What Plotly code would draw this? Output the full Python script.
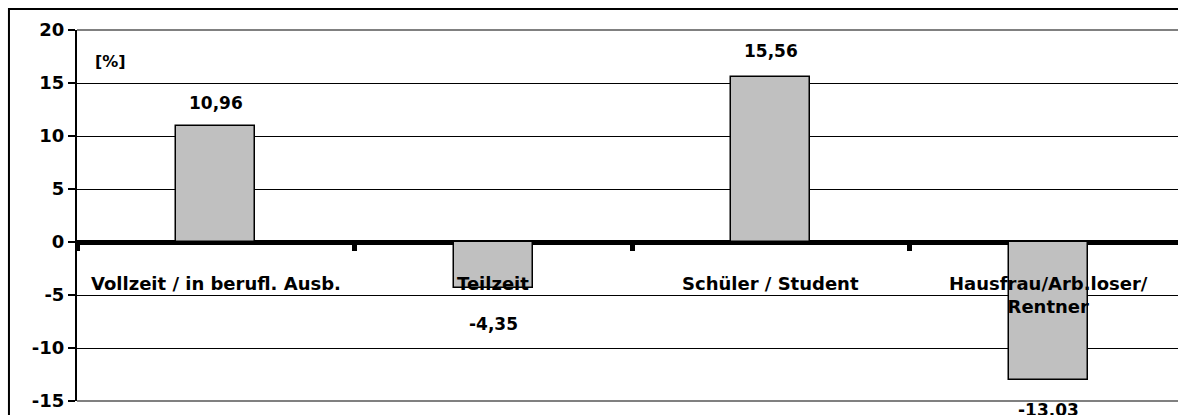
import plotly.graph_objects as go

categories = ["Vollzeit / in berufl. Ausb.", "Teilzeit", "Schüler / Student", "Hausfrau/Arb.loser/<br>Rentner"]
values = [10.96, -4.35, 15.56, -13.03]
value_labels = ["10,96", "-4,35", "15,56", "-13,03"]
y_ticks = [-15, -10, -5, 0, 5, 10, 15, 20]

FONT = "DejaVu Sans"
label_shift = [11, -24, 14, -18]

x_idx = list(range(len(categories)))

fig = go.Figure()
fig.add_trace(go.Bar(
    x=x_idx, y=values, width=0.285,
    marker=dict(color="#c0c0c0", line=dict(color="black", width=1.5)),
    hoverinfo="skip",
))

# invisible trace for the x2 axis (boundary ticks on the zero line)
fig.add_trace(go.Scatter(x=[0], y=[0], xaxis="x2", mode="markers",
                         marker=dict(opacity=0), hoverinfo="skip", showlegend=False))

for i, (v, t) in enumerate(zip(values, value_labels)):
    fig.add_annotation(x=i, y=v, text=f"<b>{t}</b>", showarrow=False,
                       yanchor="bottom" if v > 0 else "top", yshift=label_shift[i],
                       font=dict(family=FONT, size=17, color="black"))

for i, c in enumerate(categories):
    fig.add_annotation(x=i, y=0, text=f"<b>{c}</b>", showarrow=False,
                       yanchor="top", yshift=-29, align="center",
                       font=dict(family=FONT, size=18, color="black"))

fig.add_annotation(xref="paper", yref="paper", x=0.0145, y=0.914, text="<b>[%]</b>",
                   showarrow=False, xanchor="left", yanchor="middle",
                   font=dict(family=FONT, size=16, color="black"))

# plot-area border lines at top and bottom (gray), drawn over the black gridlines
for yy in (0, 1):
    fig.add_shape(type="line", xref="paper", yref="paper", x0=0, x1=1, y0=yy, y1=yy,
                  line=dict(color="#808080", width=2), layer="above")

# outer frame
fig.add_shape(type="rect", xref="paper", yref="paper", x0=-0.0618, x1=1.05, y0=-0.1, y1=1.0566,
              line=dict(color="black", width=2), layer="above")

fig.update_layout(
    width=1178, height=415,
    margin=dict(l=77, r=0, t=30, b=14),
    paper_bgcolor="white", plot_bgcolor="white",
    showlegend=False,
    bargap=0,
    hovermode=False,
    xaxis=dict(range=[-0.5, 3.467], showticklabels=False, showgrid=False, zeroline=False,
               showline=False, ticks=""),
    xaxis2=dict(range=[-0.5, 3.467], overlaying="x", anchor="free", position=15/35,
                tickvals=[-0.5, 0.5, 1.5, 2.5], ticks="outside", ticklen=8, tickwidth=5,
                tickcolor="black", showticklabels=False, showgrid=False, zeroline=False,
                showline=False),
    yaxis=dict(range=[-15, 20], tickvals=y_ticks, ticktext=[str(t) for t in y_ticks],
               showgrid=True, gridcolor="black", gridwidth=1,
               zeroline=True, zerolinecolor="black", zerolinewidth=5,
               showline=True, linecolor="black", linewidth=2,
               ticks="outside", ticklen=7, tickwidth=2, tickcolor="black",
               tickfont=dict(family=FONT, size=18, color="black", weight="bold")),
)

fig.write_html(
    "out.html",
    config={"displayModeBar": False},
    post_script="document.documentElement.style.overflow='hidden';document.body.style.margin='0';document.body.style.overflow='hidden';",
)
